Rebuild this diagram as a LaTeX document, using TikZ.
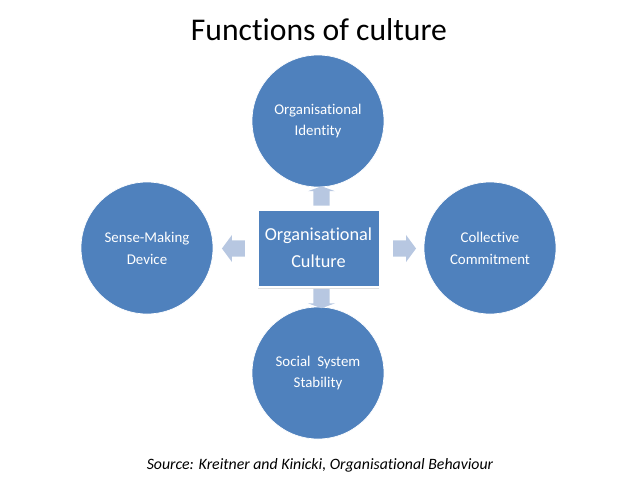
\documentclass[tikz,border=0pt]{standalone}
\usepackage{fontspec}
\setmainfont{Carlito}[Ligatures={NoCommon}]
\usetikzlibrary{shapes.arrows}
\definecolor{ofblue}{RGB}{79,129,189}
\definecolor{arrowblue}{RGB}{183,199,225}
\tikzset{
	func/.style={circle, fill=ofblue, draw=white, line width=0.6pt, minimum size=39.6mm, inner sep=0pt, text=white, align=center, font=\fontsize{12.7}{18.7}\selectfont},
	core/.style={rectangle, fill=ofblue, draw=white, line width=0.8pt, minimum width=36.3mm, minimum height=22.8mm, text=white, align=center, font=\fontsize{15.6}{23}\selectfont},
	blockarrow/.style={single arrow, fill=arrowblue, draw=none, inner sep=2.4mm, single arrow head extend=1.6mm, minimum height=#1, text width=0pt}
}
\begin{document}
\begin{tikzpicture}[x=0.3mm, y=-0.3mm]
	\useasboundingbox (0,0) rectangle (638,479);
	\node[font=\fontsize{27}{32}\selectfont] (title) at (319,30) {Functions of culture};
	\node[core] (C) at (318.5,248) {Organisational\\Culture};
	\draw[gray!25, line width=0.8pt] (258,288.5) -- (379,288.5);
	\node[func] (I) at (318,121) {Organisational\\Identity};
	\node[func] (S) at (147,248) {Sense-Making\\Device};
	\node[func] (K) at (490,248) {Collective\\Commitment};
	\node[func] (T) at (318,373) {Social~~System\\Stability};
	\node[blockarrow=3.3mm, single arrow tip angle=140, rotate=90] (aI) at (321.5,197.5) {};
	\node[blockarrow=6.9mm, single arrow tip angle=107, rotate=180] (aS) at (236.5,248.5) {};
	\node[blockarrow=6.9mm, single arrow tip angle=107] (aK) at (401.5,248.5) {};
	\node[blockarrow=3.3mm, single arrow tip angle=140, rotate=-90] (aT) at (321.5,297) {};
	\node[font=\fontsize{13.5}{16}\selectfont\itshape] (src) at (320,465) {Source: Kreitner and Kinicki, Organisational Behaviour};
\end{tikzpicture}
\end{document}
